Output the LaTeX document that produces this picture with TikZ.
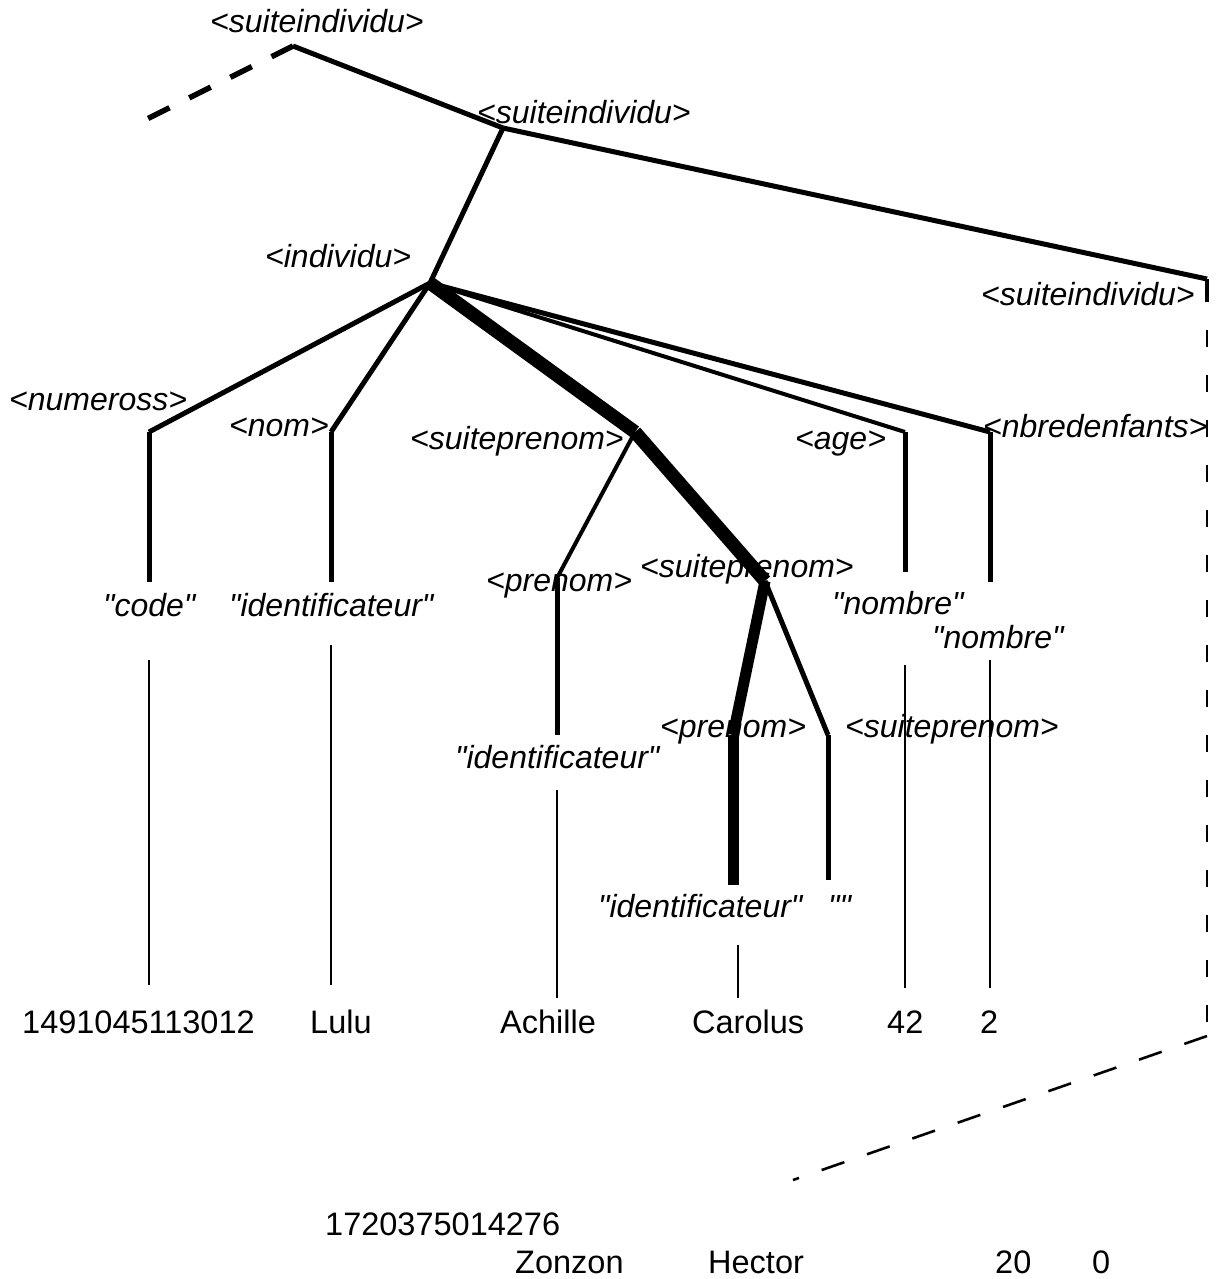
\documentclass[tikz,border=0pt]{standalone}
\usepackage{fontspec}
\setmainfont{Liberation Sans}[Ligatures=TeXOff]
\begin{document}
\begin{tikzpicture}[x=1pt,y=-1pt,
  lbl/.style={anchor=base west,inner sep=0pt,font=\fontsize{32}{36}\selectfont\itshape},
  val/.style={anchor=base west,inner sep=0pt,font=\fontsize{32.5}{36}\selectfont},
  edge/.style={line width=5pt},
  midedge/.style={line width=4pt},
  thinedge/.style={line width=2.2pt},
  heavy/.style={line width=13.5pt},
  dashtop/.style={line width=5.5pt,dash pattern=on 24pt off 22pt},
  dashright/.style={line width=2.6pt,dash pattern=on 17pt off 28pt,dash phase=17pt},
  dashdiag/.style={line width=2.6pt,dash pattern=on 24pt off 24pt},
]
\useasboundingbox (0,0) rectangle (1223,1279);

% junction points
\coordinate (s0) at (143,121);
\coordinate (s1) at (293,46);
\coordinate (s2) at (503,128);
\coordinate (ind) at (430,283);
\coordinate (s3) at (1207,279);
\coordinate (s3b) at (1207,302);
\coordinate (s3c) at (1207,1036);
\coordinate (s4) at (793,1180);
\coordinate (num) at (149,432);
\coordinate (numb) at (149,582);
\coordinate (nom) at (331,432);
\coordinate (nomb) at (331,582);
\coordinate (sp1) at (635,432);
\coordinate (age) at (905,432);
\coordinate (ageb) at (905,572);
\coordinate (nbr) at (990,432);
\coordinate (nbrb) at (990,582);
\coordinate (pr1) at (557,578);
\coordinate (pr1b) at (557,735);
\coordinate (sp2) at (765,581);
\coordinate (pr2) at (733,735);
\coordinate (pr2b) at (733,885);
\coordinate (sp3) at (828,735);
\coordinate (sp3b) at (828,880);
% thin line ends
\coordinate (c1t) at (149,660);  \coordinate (c1b) at (149,985);
\coordinate (c2t) at (331,645);  \coordinate (c2b) at (331,985);
\coordinate (c3t) at (557,790);  \coordinate (c3b) at (557,998);
\coordinate (c4t) at (738,945);  \coordinate (c4b) at (738,998);
\coordinate (c5t) at (905,665);  \coordinate (c5b) at (905,988);
\coordinate (c6t) at (990,660);  \coordinate (c6b) at (990,988);

% connectors
\draw[dashtop] (s1) -- (s0);
\draw[edge] (s1) -- (s2);
\draw[edge] (s2) -- (ind);
\draw[edge] (s2) -- (s3);
\draw[midedge] (s3) -- (s3b);
\draw[dashright] (s3b) -- (s3c);
\draw[dashdiag] (s3c) -- (s4);

\draw[edge] (ind) -- (num);
\draw[edge] (num) -- (numb);
\draw[edge] (ind) -- (nom);
\draw[edge] (nom) -- (nomb);
\draw[heavy] (ind) -- (sp1);
\draw[midedge] (ind) -- (age);
\draw[edge] (age) -- (ageb);
\draw[edge] (ind) -- (nbr);
\draw[edge] (nbr) -- (nbrb);

\draw[midedge] (sp1) -- (pr1);
\draw[edge] (pr1) -- (pr1b);
\draw[heavy] (sp1) -- (sp2);
\draw[line width=11pt] (sp2) -- (pr2);
\draw[line width=11pt] (pr2) -- (pr2b);
\draw[edge] (sp2) -- (sp3);
\draw[edge] (sp3) -- (sp3b);

\draw[thinedge] (c1t) -- (c1b);
\draw[thinedge] (c2t) -- (c2b);
\draw[thinedge] (c3t) -- (c3b);
\draw[thinedge] (c4t) -- (c4b);
\draw[thinedge] (c5t) -- (c5b);
\draw[thinedge] (c6t) -- (c6b);

% labels
\node[lbl] (l1) at (210,33) {<suiteindividu>};
\node[lbl] (l2) at (477,124) {<suiteindividu>};
\node[lbl] (l3) at (265,267) {<individu>};
\node[lbl] (l4) at (981,305) {<suiteindividu>};
\node[lbl] (l5) at (9,410) {<numeross>};
\node[lbl] (l6) at (229,436) {<nom>};
\node[lbl] (l7) at (410,449) {<suiteprenom>};
\node[lbl] (l8) at (795,449) {<age>};
\node[lbl] (l9) at (983,437) {<nbredenfants>};
\node[lbl] (l10) at (486,591) {<prenom>};
\node[lbl] (l11) at (640,577) {<suiteprenom>};
\node[lbl] (l12) at (660,737) {<prenom>};
\node[lbl] (l13) at (845,737) {<suiteprenom>};
\node[lbl] (l14) at (103,616) {"code"};
\node[lbl] (l15) at (229,616) {"identificateur"};
\node[lbl] (l16) at (832,614) {"nombre"};
\node[lbl] (l17) at (932,648) {"nombre"};
\node[lbl] (l18) at (455,768) {"identificateur"};
\node[lbl] (l19) at (598,917) {"identificateur"};
\node[lbl] (l20) at (828,917) {""};

% values
\node[val] (v1) at (22,1033) {1491045113012};
\node[val] (v2) at (310,1033) {Lulu};
\node[val] (v3) at (500,1033) {Achille};
\node[val] (v4) at (692,1033) {Carolus};
\node[val] (v5) at (887,1033) {42};
\node[val] (v6) at (980,1033) {2};
\node[val] (w1) at (325,1235) {1720375014276};
\node[val] (w2) at (515,1273) {Zonzon};
\node[val] (w3) at (708,1273) {Hector};
\node[val] (w4) at (995,1273) {20};
\node[val] (w5) at (1092,1273) {0};
\end{tikzpicture}
\end{document}
